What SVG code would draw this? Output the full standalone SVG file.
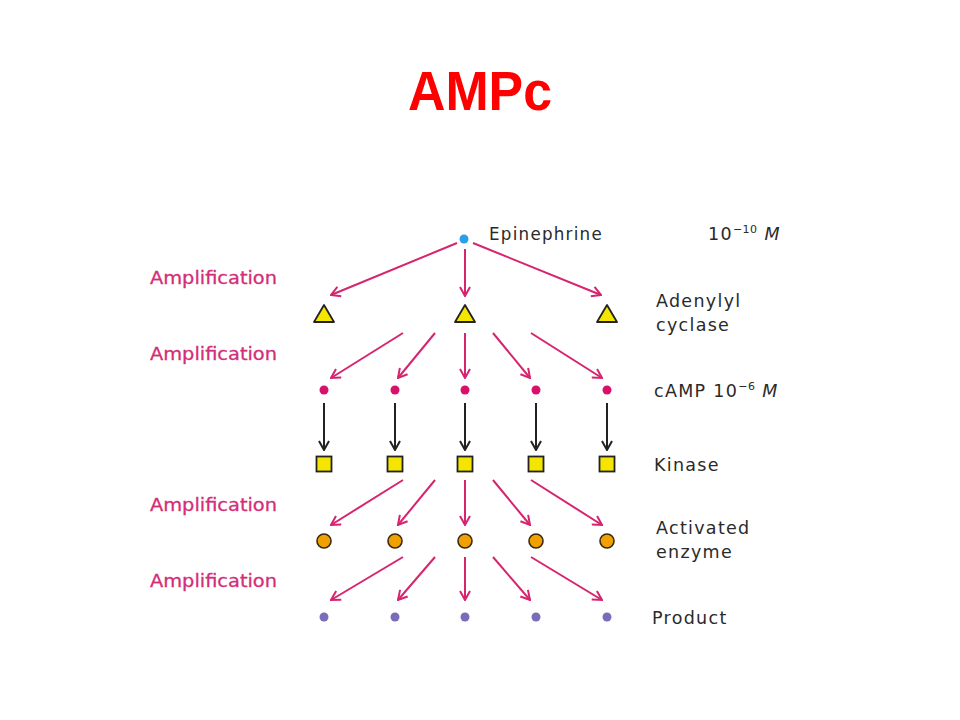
<svg xmlns="http://www.w3.org/2000/svg" width="960" height="720" viewBox="0 0 960 720">
<style>
.amp{font-family:"DejaVu Sans","Liberation Sans",sans-serif;font-size:17px;fill:#d42e78;stroke:#d42e78;stroke-width:0.3}
.lbl{font-family:"DejaVu Sans","Liberation Sans",sans-serif;font-size:17.5px;fill:#2a2a2a;letter-spacing:1.3px}
.sup{font-size:11px;letter-spacing:0.5px}
.pk{stroke:#d6246e;stroke-width:2;fill:none}
.bk{stroke:#222;stroke-width:2;fill:none}
.tri{fill:#f4e600;stroke:#222;stroke-width:1.8;stroke-linejoin:round}
.sq{fill:#f4e600;stroke:#222;stroke-width:1.8}
.enz{fill:#f0a000;stroke:#3a2a10;stroke-width:1.6}
.camp{fill:#d8106a}
.prod{fill:#7a6cb8}
</style>
<defs>
<marker id="ap" viewBox="0 0 12 12" refX="11" refY="6" markerWidth="12" markerHeight="12" markerUnits="userSpaceOnUse" orient="auto">
<path d="M2,1 L11,6 L2,11" stroke="#d6246e" stroke-width="2" fill="none"/>
</marker>
<marker id="ab" viewBox="0 0 12 12" refX="11" refY="6" markerWidth="12" markerHeight="12" markerUnits="userSpaceOnUse" orient="auto">
<path d="M2,1 L11,6 L2,11" stroke="#222" stroke-width="2" fill="none"/>
</marker>
</defs>
<rect width="960" height="720" fill="#fff"/>
<text x="480" y="110" text-anchor="middle" font-family="'Liberation Sans',Arial,sans-serif" font-weight="bold" font-size="56" fill="#ff0000" textLength="144" lengthAdjust="spacingAndGlyphs">AMPc</text>

<g id="connectors">
<line class="pk" x1="457" y1="243" x2="331" y2="295" marker-end="url(#ap)"/>
<line class="pk" x1="465" y1="249" x2="465" y2="296" marker-end="url(#ap)"/>
<line class="pk" x1="473" y1="243" x2="601" y2="295" marker-end="url(#ap)"/>

<line class="pk" x1="403" y1="333" x2="331" y2="378" marker-end="url(#ap)"/>
<line class="pk" x1="435" y1="333" x2="398" y2="378" marker-end="url(#ap)"/>
<line class="pk" x1="465" y1="333" x2="465" y2="378" marker-end="url(#ap)"/>
<line class="pk" x1="493" y1="333" x2="530" y2="378" marker-end="url(#ap)"/>
<line class="pk" x1="531" y1="333" x2="602" y2="378" marker-end="url(#ap)"/>

<line class="bk" x1="324" y1="403" x2="324" y2="450" marker-end="url(#ab)"/>
<line class="bk" x1="395" y1="403" x2="395" y2="450" marker-end="url(#ab)"/>
<line class="bk" x1="465" y1="403" x2="465" y2="450" marker-end="url(#ab)"/>
<line class="bk" x1="536" y1="403" x2="536" y2="450" marker-end="url(#ab)"/>
<line class="bk" x1="607" y1="403" x2="607" y2="450" marker-end="url(#ab)"/>

<line class="pk" x1="403" y1="480" x2="331" y2="525" marker-end="url(#ap)"/>
<line class="pk" x1="435" y1="480" x2="398" y2="525" marker-end="url(#ap)"/>
<line class="pk" x1="465" y1="480" x2="465" y2="525" marker-end="url(#ap)"/>
<line class="pk" x1="493" y1="480" x2="530" y2="525" marker-end="url(#ap)"/>
<line class="pk" x1="531" y1="480" x2="602" y2="525" marker-end="url(#ap)"/>

<line class="pk" x1="403" y1="557" x2="331" y2="600" marker-end="url(#ap)"/>
<line class="pk" x1="435" y1="557" x2="398" y2="600" marker-end="url(#ap)"/>
<line class="pk" x1="465" y1="557" x2="465" y2="600" marker-end="url(#ap)"/>
<line class="pk" x1="493" y1="557" x2="530" y2="600" marker-end="url(#ap)"/>
<line class="pk" x1="531" y1="557" x2="602" y2="600" marker-end="url(#ap)"/>
</g>

<g id="epinephrine">
<circle cx="464" cy="239" r="4.5" fill="#2a9ee8"/>
<text class="lbl" x="489" y="240" textLength="114" lengthAdjust="spacingAndGlyphs">Epinephrine</text>
<text class="lbl" x="708" y="240">10<tspan class="sup" dy="-7">−10</tspan><tspan dy="7" font-style="italic"> M</tspan></text>
</g>

<g id="adenylyl-cyclase">
<polygon class="tri" points="324,305 314,322 334,322"/>
<polygon class="tri" points="465,305 455,322 475,322"/>
<polygon class="tri" points="607,305 597,322 617,322"/>
<text class="lbl" x="656" y="307">Adenylyl</text>
<text class="lbl" x="656" y="331">cyclase</text>
</g>

<g id="camp">
<circle class="camp" cx="324" cy="390" r="4.5"/>
<circle class="camp" cx="395" cy="390" r="4.5"/>
<circle class="camp" cx="465" cy="390" r="4.5"/>
<circle class="camp" cx="536" cy="390" r="4.5"/>
<circle class="camp" cx="607" cy="390" r="4.5"/>
<text class="lbl" x="654" y="397">cAMP 10<tspan class="sup" dy="-7">−6</tspan><tspan dy="7" font-style="italic"> M</tspan></text>
</g>

<g id="kinase">
<rect class="sq" x="316.5" y="456.5" width="15" height="15"/>
<rect class="sq" x="387.5" y="456.5" width="15" height="15"/>
<rect class="sq" x="457.5" y="456.5" width="15" height="15"/>
<rect class="sq" x="528.5" y="456.5" width="15" height="15"/>
<rect class="sq" x="599.5" y="456.5" width="15" height="15"/>
<text class="lbl" x="654" y="471">Kinase</text>
</g>

<g id="activated-enzyme">
<circle class="enz" cx="324" cy="541" r="7"/>
<circle class="enz" cx="395" cy="541" r="7"/>
<circle class="enz" cx="465" cy="541" r="7"/>
<circle class="enz" cx="536" cy="541" r="7"/>
<circle class="enz" cx="607" cy="541" r="7"/>
<text class="lbl" x="656" y="534">Activated</text>
<text class="lbl" x="656" y="558">enzyme</text>
</g>

<g id="product">
<circle class="prod" cx="324" cy="617" r="4.5"/>
<circle class="prod" cx="395" cy="617" r="4.5"/>
<circle class="prod" cx="465" cy="617" r="4.5"/>
<circle class="prod" cx="536" cy="617" r="4.5"/>
<circle class="prod" cx="607" cy="617" r="4.5"/>
<text class="lbl" x="652" y="624">Product</text>
</g>

<g id="amplification-labels">
<text class="amp" x="150" y="284" textLength="127" lengthAdjust="spacingAndGlyphs">Amplification</text>
<text class="amp" x="150" y="360" textLength="127" lengthAdjust="spacingAndGlyphs">Amplification</text>
<text class="amp" x="150" y="511" textLength="127" lengthAdjust="spacingAndGlyphs">Amplification</text>
<text class="amp" x="150" y="587" textLength="127" lengthAdjust="spacingAndGlyphs">Amplification</text>
</g>
</svg>
